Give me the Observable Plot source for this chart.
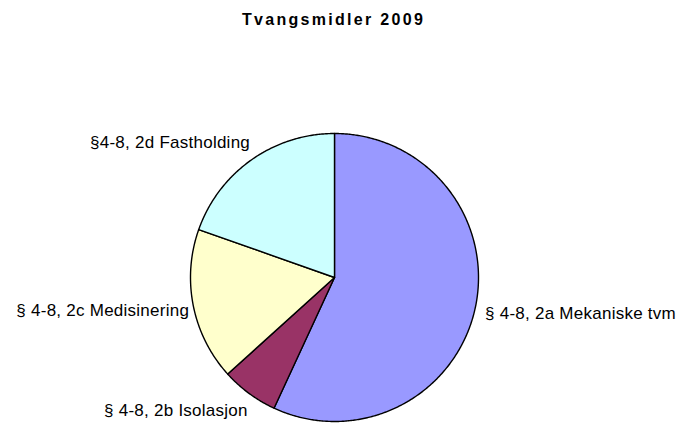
<!DOCTYPE html>
<html>
<head>
<meta charset="utf-8">
<script src="https://cdn.jsdelivr.net/npm/d3@7"></script>
<script src="https://cdn.jsdelivr.net/npm/@observablehq/plot@0.6"></script>
<style>
  html, body { margin: 0; padding: 0; background: #fff; }
  #wrap { position: relative; width: 683px; height: 423px; }
  #title { position: absolute; left: -8px; top: 11px; width: 683px; text-align: center;
           font: bold 16px "Liberation Sans", Arial, sans-serif; letter-spacing: 2.3px; color: #000; }
  svg text { letter-spacing: 0.25px; }
</style>
</head>
<body>
<div id="wrap">
  <div id="chart"></div>
  <div id="title">Tvangsmidler 2009</div>
</div>
<script>
const categories = ["§ 4-8, 2a Mekaniske tvm", "§ 4-8, 2b Isolasjon", "§ 4-8, 2c Medisinering", "§4-8, 2d Fastholding"];
const values = [56.9, 6.4, 17.1, 19.6];
const colors = ["#9999FF", "#993366", "#FFFFCC", "#CCFFFF"];

const W = 683, H = 423, cx = 334, cy = 277, R = 144;

const pie = d3.pie().sort(null).value(d => d.value);
const arcs = pie(categories.map((name, i) => ({name, value: values[i]})));

// slice outlines (center -> arc -> center), angle measured clockwise from 12 o'clock
const pts = [];
for (const a of arcs) {
  const n = Math.max(2, Math.ceil((a.endAngle - a.startAngle) / (Math.PI / 360)));
  pts.push({name: a.data.name, x: 0, y: 0});
  for (let k = 0; k <= n; k++) {
    const t = a.startAngle + (a.endAngle - a.startAngle) * k / n;
    pts.push({name: a.data.name, x: Math.sin(t), y: Math.cos(t)});
  }
  pts.push({name: a.data.name, x: 0, y: 0});
}

const labels = arcs.map(a => {
  const m = (a.startAngle + a.endAngle) / 2;
  const s = Math.sin(m), c = Math.cos(m);
  return {name: a.data.name, x: 1.05 * s + 0.02, y: 1.15 * c, anchor: s > 0 ? "start" : "end"};
});

const chart = Plot.plot({
  width: W, height: H,
  margin: 0,
  x: {domain: [-cx / R, (W - cx) / R], axis: null},
  y: {domain: [-(H - cy) / R, cy / R], axis: null},
  color: {domain: categories, range: colors},
  style: {fontFamily: "'Liberation Sans', Arial, sans-serif", fontSize: "17px", background: "white"},
  marks: [
    Plot.line(pts, {x: "x", y: "y", z: "name", fill: "name", stroke: "black", strokeWidth: 1.4, strokeLinejoin: "round"}),
    Plot.text(labels.filter(d => d.anchor === "start"), {x: "x", y: "y", text: "name", textAnchor: "start", fill: "black", fontSize: 17}),
    Plot.text(labels.filter(d => d.anchor === "end"), {x: "x", y: "y", text: "name", textAnchor: "end", fill: "black", fontSize: 17})
  ]
});
chart.style.position = "absolute";
chart.style.left = "0px";
chart.style.top = "0px";
document.getElementById("chart").appendChild(chart);
</script>
</body>
</html>
